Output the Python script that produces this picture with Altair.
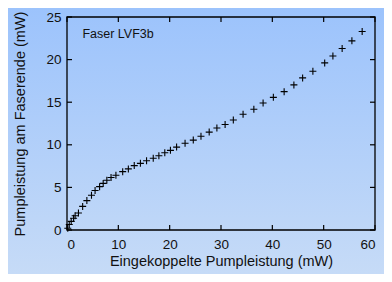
import altair as alt
import pandas as pd

# Data
pump_in = [0.15, 0.44, 0.82, 1.28, 1.58, 2.23, 3.05, 3.87, 4.77, 5.47, 6.35, 7.05,
           7.76, 8.58, 9.53, 10.85, 11.95, 13.1, 14.3, 15.5, 16.8, 17.9, 19.05,
           20.15, 21.35, 23.0, 24.6, 26.1, 27.7, 29.2, 30.8, 32.4, 34.3, 36.4,
           38.2, 40.2, 42.3, 44.2, 45.9, 47.9, 50.2, 51.8, 53.6, 55.5, 57.5]
pump_out = [0.2, 0.64, 1.01, 1.38, 1.68, 1.99, 2.77, 3.45, 4.08, 4.63, 5.09, 5.47,
            5.84, 6.17, 6.43, 6.85, 7.17, 7.56, 7.82, 8.12, 8.42, 8.72, 9.06,
            9.35, 9.73, 10.18, 10.55, 11.0, 11.49, 11.98, 12.38, 12.91, 13.58, 14.18,
            14.9, 15.57, 16.24, 17.03, 17.85, 18.64, 19.61, 20.43, 21.3, 22.2, 23.3]
x_ticks = [0, 10, 20, 30, 40, 50, 60]
y_ticks = [0, 5, 10, 15, 20, 25]
label_text = ["Faser LVF3b"]
label_x = [3.0]
label_y = [23.0]

W, H = 308, 213
PL, PT, PR, PB = 59, 9, 9, 44
FONT = "Liberation Sans"

xs = alt.Scale(domain=[0, 60], nice=False, zero=False)
ys = alt.Scale(domain=[0, 25], nice=False, zero=False)

xaxis = alt.Axis(
    values=x_ticks, title="Eingekoppelte Pumpleistung (mW)", ticks=False,
    domain=False, grid=False, labelPadding=7, titlePadding=4, zindex=1,
    labelFontSize=13.5, titleFontSize=14.5, labelFont=FONT, titleFont=FONT,
    labelColor="#111", titleColor="#111", titleFontWeight="normal")
yaxis = alt.Axis(
    values=y_ticks, title="Pumpleistung am Faserende (mW)", ticks=False,
    domain=False, grid=False, labelPadding=6, titlePadding=18, zindex=1,
    labelFontSize=13.5, titleFontSize=14.5, labelFont=FONT, titleFont=FONT,
    labelColor="#111", titleColor="#111", titleFontWeight="normal")

df = pd.DataFrame({"x": pump_in, "y": pump_out})
xt = pd.DataFrame({"x": x_ticks})
yt = pd.DataFrame({"y": y_ticks})
lab = pd.DataFrame({"t": label_text, "x": label_x, "y": label_y})
one = pd.DataFrame({"d": [0]})

grad = alt.LinearGradient(
    gradient="linear",
    stops=[alt.GradientStop(color="#9cc3fc", offset=0),
           alt.GradientStop(color="#c6dbf7", offset=1)],
    x1=0, x2=0, y1=0, y2=1,
)

bg = alt.Chart(one).mark_rect(color=grad).encode(
    x=alt.value(-PL), x2=alt.value(W + PR), y=alt.value(-PT), y2=alt.value(H + PB)
)

frame = alt.Chart(one).mark_rect(fillOpacity=0, stroke="black", strokeWidth=1.3).encode(
    x=alt.value(0), x2=alt.value(W), y=alt.value(0), y2=alt.value(H)
)

tick_style = dict(color="black", strokeWidth=1.2)
t_bottom = alt.Chart(xt).mark_rule(**tick_style).encode(
    x=alt.X("x:Q", scale=xs, axis=xaxis), y=alt.value(H), y2=alt.value(H - 5))
t_top = alt.Chart(xt).mark_rule(**tick_style).encode(
    x=alt.X("x:Q", scale=xs, axis=xaxis), y=alt.value(0), y2=alt.value(5))
t_left = alt.Chart(yt).mark_rule(**tick_style).encode(
    y=alt.Y("y:Q", scale=ys, axis=yaxis), x=alt.value(0), x2=alt.value(5))
t_right = alt.Chart(yt).mark_rule(**tick_style).encode(
    y=alt.Y("y:Q", scale=ys, axis=yaxis), x=alt.value(W), x2=alt.value(W - 5))

pts = alt.Chart(df).mark_point(
    shape="M-1,0L1,0M0,-1L0,1", size=49, filled=False, color="black",
    strokeWidth=1.1, opacity=1,
).encode(
    x=alt.X("x:Q", scale=xs, axis=xaxis),
    y=alt.Y("y:Q", scale=ys, axis=yaxis),
)

txt = alt.Chart(lab).mark_text(
    align="left", baseline="middle", fontSize=12.5, font=FONT, color="#111"
).encode(
    x=alt.X("x:Q", scale=xs, axis=xaxis),
    y=alt.Y("y:Q", scale=ys, axis=yaxis),
    text="t:N",
)

chart = alt.layer(bg, frame, t_bottom, t_top, t_left, t_right, pts, txt).properties(
    width=W, height=H,
    autosize=alt.AutoSizeParams(type="none"),
    padding={"left": PL, "top": PT, "right": PR, "bottom": PB},
    background="#b2cffa",
).configure_view(stroke=None)

chart.save("out.html", embed_options={"renderer": "svg", "actions": False})
